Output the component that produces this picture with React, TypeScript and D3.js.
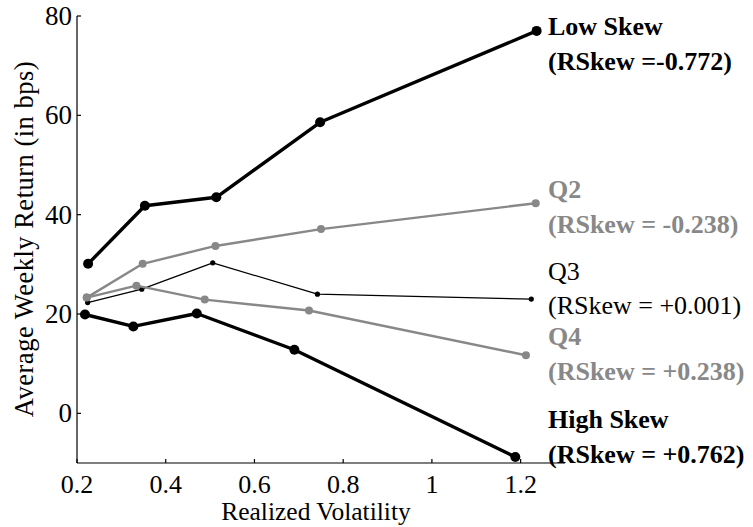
import React from "react";
import * as d3 from "d3";

const seriesNames = ["Low Skew", "Q2", "Q3", "Q4", "High Skew"];
const seriesLabels = ["(RSkew =-0.772)", "(RSkew = -0.238)", "(RSkew = +0.001)", "(RSkew = +0.238)", "(RSkew = +0.762)"];

const lowSkewX = [0.225, 0.353, 0.514, 0.748, 1.236];
const lowSkewY = [30.1, 41.8, 43.5, 58.6, 77.0];
const q2X = [0.222, 0.348, 0.512, 0.75, 1.234];
const q2Y = [23.3, 30.1, 33.7, 37.1, 42.3];
const q3X = [0.224, 0.346, 0.506, 0.742, 1.224];
const q3Y = [22.3, 25.0, 30.3, 24.0, 23.0];
const q4X = [0.222, 0.334, 0.488, 0.723, 1.212];
const q4Y = [23.3, 25.7, 22.9, 20.7, 11.7];
const highSkewX = [0.218, 0.327, 0.47, 0.69, 1.188];
const highSkewY = [19.9, 17.5, 20.1, 12.8, -8.8];

const xTicks = [0.2, 0.4, 0.6, 0.8, 1, 1.2];
const yTicks = [0, 20, 40, 60, 80];

const W = 753, H = 527;
const left = 77, right = 565, top = 16, bottom = 463;
const FONT = '"Liberation Serif"';

const styles = [
  { color: "#000", width: 3.4, r: 5, bold: true },
  { color: "#888", width: 2.4, r: 4, bold: true },
  { color: "#000", width: 1.2, r: 2.6, bold: false },
  { color: "#888", width: 2.4, r: 4, bold: true },
  { color: "#000", width: 3.4, r: 5, bold: true },
];
const labelY = [[35, 70], [198, 233], [280, 314], [345, 380], [428, 463]];

export default function App() {
  const x = d3.scaleLinear().domain([0.2, 1.3]).range([left, right]);
  const y = d3.scaleLinear().domain([-10, 80]).range([bottom, top]);
  const data = [
    [lowSkewX, lowSkewY],
    [q2X, q2Y],
    [q3X, q3Y],
    [q4X, q4Y],
    [highSkewX, highSkewY],
  ];
  const line = d3.line<[number, number]>().x((d) => x(d[0])).y((d) => y(d[1]));
  const fmt = (v: number) => (v === 1 ? "1" : String(v));
  const ts = { fontFamily: FONT };
  return (
    <svg width={W} height={H} style={{ position: "absolute", left: 0, top: 0, background: "#fff" }}>
      <rect width={W} height={H} fill="#fff" />
      <line x1={left} x2={left} y1={top} y2={bottom} stroke="#000" strokeWidth={1.2} />
      <line x1={left} x2={right} y1={bottom} y2={bottom} stroke="#000" strokeWidth={1.2} />
      {yTicks.map((t) => (
        <g key={"y" + t}>
          <line x1={left} x2={left + 4} y1={y(t)} y2={y(t)} stroke="#000" strokeWidth={1.2} />
          <text x={left - 5} y={y(t)} dy="0.33em" textAnchor="end" fontSize={27} style={ts}>{t}</text>
        </g>
      ))}
      {xTicks.map((t) => (
        <g key={"x" + t}>
          <line x1={x(t)} x2={x(t)} y1={bottom} y2={bottom - 4} stroke="#000" strokeWidth={1.2} />
          <text x={x(t)} y={493} textAnchor="middle" fontSize={26} style={ts}>{fmt(t)}</text>
        </g>
      ))}
      <text x={316} y={520} textAnchor="middle" fontSize={25.5} style={ts}>Realized Volatility</text>
      <text transform={`translate(${33},${239}) rotate(-90)`} textAnchor="middle" fontSize={26.5} letterSpacing={0.5} style={ts}>
        Average Weekly Return (in bps)
      </text>
      {data.map(([xs, ys], i) => {
        const pts = xs.map((v, j) => [v, ys[j]] as [number, number]);
        const s = styles[i];
        return (
          <g key={i}>
            <path d={line(pts) || ""} fill="none" stroke={s.color} strokeWidth={s.width} strokeLinejoin="round" />
            {pts.map((p, j) => (
              <circle key={j} cx={x(p[0])} cy={y(p[1])} r={s.r} fill={s.color} />
            ))}
          </g>
        );
      })}
      {seriesNames.map((n, i) => (
        <g key={"l" + i} fill={styles[i].color} fontWeight={styles[i].bold ? "bold" : "normal"} fontSize={26}>
          <text x={548} y={labelY[i][0]} style={ts}>{n}</text>
          <text x={548} y={labelY[i][1]} style={ts}>{seriesLabels[i]}</text>
        </g>
      ))}
    </svg>
  );
}
